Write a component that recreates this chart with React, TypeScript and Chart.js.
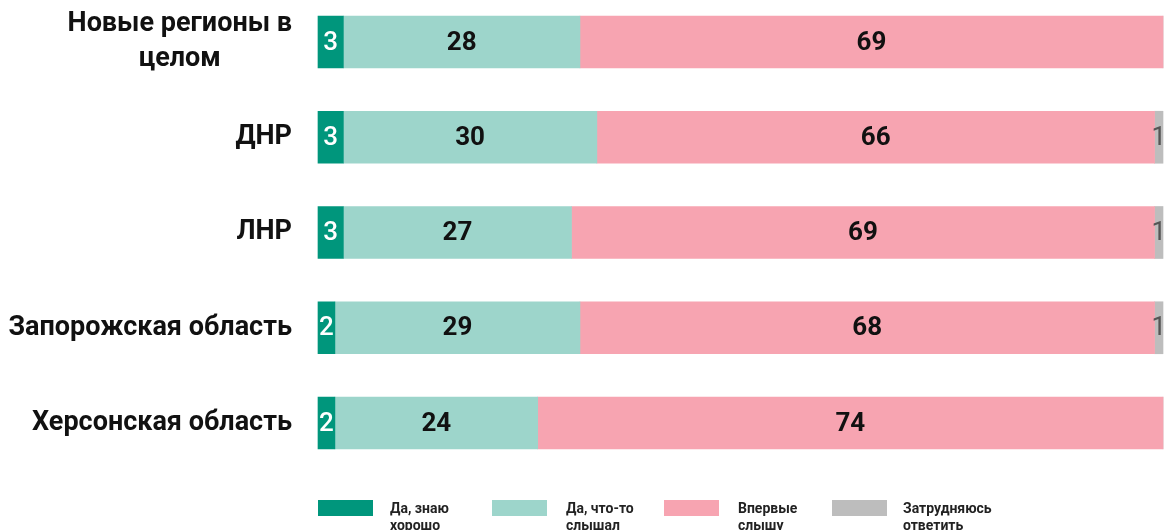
import React, { useEffect, useRef } from "react";
import { Chart, registerables } from "chart.js";

Chart.register(...registerables);

const categories: string[][] = [
  ["Новые регионы в", "целом"],
  ["ДНР"],
  ["ЛНР"],
  ["Запорожская область"],
  ["Херсонская область"],
];
const seriesNames = ["Да, знаю хорошо", "Да, что-то слышал", "Впервые слышу", "Затрудняюсь ответить"];
const legendLines = [["Да, знаю", "хорошо"], ["Да, что-то", "слышал"], ["Впервые", "слышу"], ["Затрудняюсь", "ответить"]];
const knowWell = [3, 3, 3, 2, 2];
const heardSomething = [28, 30, 27, 29, 24];
const firstTime = [69, 66, 69, 68, 74];
const hardToSay = [0, 1, 1, 1, 0];
const colors = ["#00967c", "#9dd5cb", "#f7a4b1", "#bdbdbd"];
const labelColors = ["#ffffff", "#111111", "#111111", "#555555"];

const FONT = "Roboto, 'Noto Sans', sans-serif";

const labelsPlugin = {
  id: "customLabels",
  afterDatasetsDraw(chart: any) {
    const ctx = chart.ctx;
    ctx.save();
    chart.data.datasets.forEach((ds: any, di: number) => {
      const meta = chart.getDatasetMeta(di);
      meta.data.forEach((bar: any, i: number) => {
        const v = ds.data[i];
        if (!v) return;
        const x = (bar.base + bar.x) / 2;
        ctx.fillStyle = labelColors[di];
        ctx.font = di === 3 ? `400 26px ${FONT}` : di === 0 ? `500 26px ${FONT}` : `700 26px ${FONT}`;
        ctx.textAlign = "center";
        ctx.textBaseline = "middle";
        ctx.fillText(String(v), x, bar.y + 1);
      });
    });
    // category labels
    const yScale = chart.scales.y;
    const right = chart.chartArea.left - 26;
    ctx.fillStyle = "#111111";
    ctx.font = `700 27px ${FONT}`;
    ctx.textBaseline = "middle";
    categories.forEach((lines, i) => {
      const cy = yScale.getPixelForValue(i);
      const lh = 35;
      const maxW = Math.max(...lines.map((l) => ctx.measureText(l).width));
      lines.forEach((line, li) => {
        const y = cy + (li - (lines.length - 1) / 2) * lh;
        if (lines.length > 1) {
          ctx.textAlign = "center";
          ctx.fillText(line, right - maxW / 2, y);
        } else {
          ctx.textAlign = "right";
          ctx.fillText(line, right, y);
        }
      });
    });
    // legend
    const sx = [318, 492, 664, 832];
    const tx = [390, 566, 738, 903];
    ctx.font = `700 14px ${FONT}`;
    ctx.textAlign = "left";
    ctx.textBaseline = "alphabetic";
    legendLines.forEach((lines, i) => {
      ctx.fillStyle = colors[i];
      ctx.fillRect(sx[i], 500, 55, 16);
      ctx.fillStyle = "#222222";
      lines.forEach((l, li) => ctx.fillText(l, tx[i], 513 + li * 17));
    });
    ctx.restore();
  },
};

export default function App() {
  const ref = useRef<HTMLCanvasElement>(null);
  useEffect(() => {
    document.body.style.margin = "0";
    const values = [knowWell, heardSomething, firstTime, hardToSay];
    const chart = new Chart(ref.current!, {
      type: "bar",
      data: {
        labels: categories.map((c) => c.join(" ")),
        datasets: values.map((d, i) => ({
          label: seriesNames[i],
          data: d,
          backgroundColor: colors[i],
          barThickness: 52,
          clip: false as any,
        })),
      },
      options: {
        indexAxis: "y",
        animation: false,
        responsive: false,
        layout: { padding: { left: 318, right: 5, top: 42, bottom: 107 } },
        plugins: { legend: { display: false }, tooltip: { enabled: false } },
        scales: {
          x: { stacked: true, min: 0, max: 100, display: false },
          y: { stacked: true, offset: false, display: false },
        },
      },
      plugins: [labelsPlugin],
    });
    return () => chart.destroy();
  }, []);
  return <canvas ref={ref} width={1168} height={530} style={{ display: "block" }} />;
}
